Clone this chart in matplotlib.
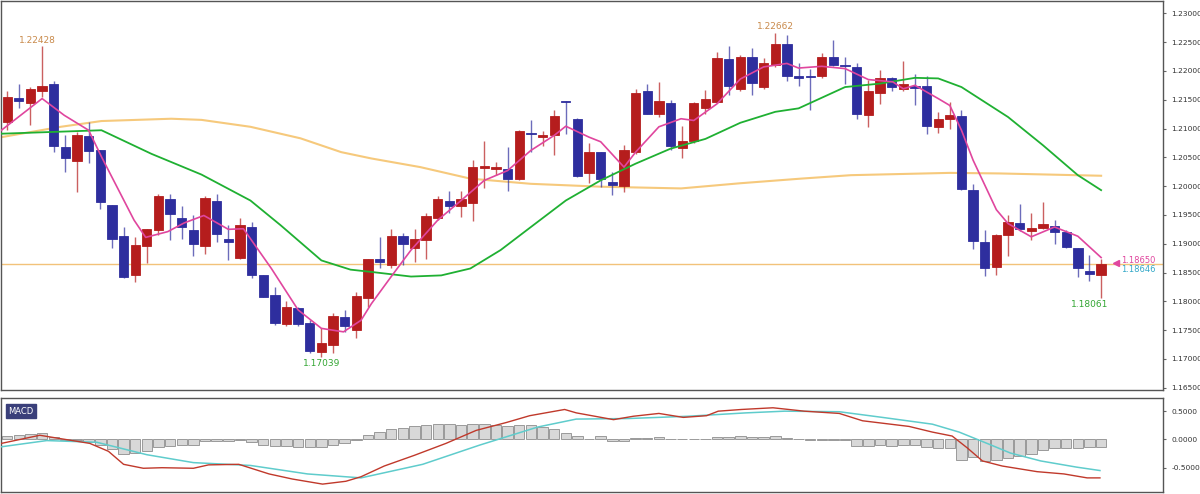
import matplotlib
matplotlib.use("Agg")
import matplotlib.pyplot as plt
import numpy as np

# OHLC (red = up, blue = down)
opens = [1.2111,1.2153,1.2145,1.2165,1.2177,1.2068,1.2043,1.2087,1.2063,1.1968,1.1914,1.1845,1.1896,1.1923,1.1978,1.1945,1.1923,1.1896,1.1975,1.1909,
         1.1876,1.1929,1.1845,1.1811,1.1760,1.1788,1.1762,1.1712,1.1724,1.1773,1.1750,1.1806,1.1873,1.1863,1.1913,1.1892,1.1907,1.1945,1.1975,1.1965,
         1.1971,1.2032,1.2029,1.2029,1.2013,1.2093,1.2085,1.2088,1.2148,1.2116,1.2022,1.2059,1.2007,1.2000,1.2059,1.2165,1.2126,1.2144,1.2067,1.2078,
         1.2136,1.2146,1.2220,1.2168,1.2224,1.2172,1.2211,1.2247,1.2191,1.2191,1.2191,1.2224,1.2211,1.2207,1.2123,1.2162,1.2187,1.2169,1.2173,1.2173,
         1.2103,1.2116,1.2122,1.1993,1.1903,1.1860,1.1915,1.1936,1.1922,1.1928,1.1931,1.1921,1.1893,1.1853,1.1845]
closes = [1.2155,1.2147,1.2169,1.2173,1.2070,1.2048,1.2089,1.2061,1.1972,1.1909,1.1843,1.1897,1.1926,1.1982,1.1951,1.1929,1.1900,1.1980,1.1917,1.1903,
          1.1932,1.1845,1.1808,1.1762,1.1790,1.1760,1.1714,1.1727,1.1774,1.1757,1.1810,1.1873,1.1869,1.1913,1.1899,1.1908,1.1948,1.1978,1.1965,1.1978,
          1.2033,1.2035,1.2033,1.2013,1.2096,1.2090,1.2088,1.2121,1.2146,1.2018,1.2060,1.2012,1.2002,1.2062,1.2162,1.2126,1.2147,1.2070,1.2078,1.2144,
          1.2151,1.2222,1.2174,1.2225,1.2179,1.2214,1.2247,1.2191,1.2187,1.2189,1.2224,1.2211,1.2208,1.2126,1.2165,1.2188,1.2172,1.2177,1.2171,1.2104,
          1.2116,1.2124,1.1995,1.1905,1.1857,1.1915,1.1938,1.1925,1.1928,1.1935,1.1921,1.1895,1.1857,1.1847,1.1865]
highs = [1.2166,1.2178,1.2172,1.22428,1.2182,1.2088,1.2094,1.2111,1.2063,1.1968,1.1929,1.1912,1.1926,1.1987,1.1986,1.1966,1.1949,1.1983,1.1987,1.1932,
         1.1944,1.1938,1.1845,1.1825,1.1801,1.1790,1.1767,1.1753,1.1779,1.1785,1.1817,1.1874,1.1912,1.1925,1.1919,1.1925,1.1954,1.1982,1.1991,1.1992,
         1.2045,1.2078,1.2042,1.2068,1.2098,1.2115,1.2095,1.2133,1.2148,1.2118,1.2074,1.2060,1.2025,1.2071,1.2169,1.2178,1.2181,1.2150,1.2104,1.2146,
         1.2167,1.2232,1.2244,1.2228,1.2239,1.2222,1.22662,1.2262,1.2214,1.2204,1.2231,1.2253,1.2225,1.2213,1.2184,1.2201,1.2190,1.2217,1.2194,1.2191,
         1.2128,1.2146,1.2133,1.2003,1.1923,1.1917,1.1950,1.1969,1.1954,1.1973,1.1942,1.1923,1.1893,1.1881,1.1873]
lows = [1.2097,1.2135,1.2106,1.2155,1.2059,1.2025,1.1989,1.2041,1.1961,1.1892,1.1841,1.1834,1.1867,1.1915,1.1907,1.1908,1.1879,1.1883,1.1903,1.1871,
        1.1873,1.1840,1.1808,1.1759,1.1758,1.1758,1.1710,1.17039,1.1710,1.1747,1.1736,1.1790,1.1857,1.1857,1.1863,1.1869,1.1873,1.1942,1.1954,1.1947,
        1.1940,1.1996,1.2020,1.1992,1.2010,1.2059,1.2070,1.2054,1.2091,1.2015,1.2005,1.1999,1.1984,1.1990,1.2055,1.2126,1.2120,1.2062,1.2049,1.2074,
        1.2125,1.2144,1.2158,1.2165,1.2158,1.2168,1.2207,1.2182,1.2173,1.2132,1.2188,1.2208,1.2178,1.2117,1.2102,1.2143,1.2165,1.2165,1.2141,1.2091,
        1.2092,1.2100,1.1993,1.1890,1.1844,1.1845,1.1878,1.1922,1.1906,1.1926,1.1899,1.1892,1.1843,1.1836,1.18061]

ma_fast_x = [-0.5,3.0,4.9,7.0,8.1,10.9,11.9,13.8,15.2,16.9,19.0,20.3,22.7,25.0,27.0,28.9,30.4,31.3,33.0,34.7,37.0,39.0,41.0,43.0,45.0,47.0,48.0,50.0,51.0,53.0,
             54.0,56.0,57.9,59.0,61.0,63.0,65.0,67.0,68.0,70.0,72.0,74.0,76.1,77.0,78.0,80.0,81.0,82.0,83.0,85.0,86.0,88.0,90.0,92.0,94.0]
ma_fast = [1.2097,1.2152,1.2123,1.2097,1.2051,1.1941,1.1911,1.1921,1.1936,1.1949,1.1925,1.1926,1.1857,1.1785,1.1753,1.1747,1.1767,1.1796,1.1843,1.1889,
           1.1941,1.1975,1.2010,1.2027,1.2062,1.2088,1.2104,1.2085,1.2077,1.2033,1.2059,1.2103,1.2117,1.2114,1.2143,1.2186,1.2207,1.2213,1.2205,1.2208,
           1.2204,1.2185,1.2181,1.2169,1.2175,1.2152,1.2140,1.2097,1.2045,1.1959,1.1935,1.1912,1.1929,1.1913,1.1876]
ma_mid_x = [-0.5,8.1,12.4,16.7,20.9,23.5,27.0,29.5,31.3,34.7,37.3,39.8,42.4,45.0,48.0,51.0,54.0,57.0,60.0,63.0,66.0,68.0,72.0,75.0,78.0,80.0,82.0,86.0,89.0,92.0,94.0]
ma_mid = [1.2091,1.2097,1.2056,1.2020,1.1975,1.1932,1.1871,1.1855,1.1851,1.1843,1.1845,1.1857,1.1889,1.1929,1.1975,1.2010,1.2039,1.2065,1.2082,1.2110,
          1.2129,1.2135,1.2172,1.2178,1.2188,1.2187,1.2172,1.2120,1.2071,1.2019,1.1993]
ma_slow_x = [-0.5,4.6,8.1,14.1,16.7,20.9,25.2,28.7,31.3,35.5,39.8,45.0,51.0,57.9,63.0,68.2,72.5,81.0,85.3,94.0]
ma_slow = [1.2085,1.2103,1.2113,1.2117,1.2115,1.2103,1.2083,1.2059,1.2048,1.2033,1.2013,1.2004,1.1999,1.1996,1.2005,1.2013,1.2019,1.2023,1.2022,1.2018]
hline_price = 1.1865

hist = [0.063,0.086,0.10,0.12,0.046,-0.01,-0.01,-0.04,-0.10,-0.17,-0.26,-0.24,-0.21,-0.14,-0.11,-0.10,-0.10,-0.02,-0.02,-0.02,
        -0.005,-0.04,-0.09,-0.11,-0.11,-0.14,-0.14,-0.14,-0.10,-0.07,-0.005,0.074,0.13,0.19,0.21,0.23,0.26,0.27,0.27,0.26,
        0.27,0.27,0.25,0.23,0.25,0.25,0.22,0.19,0.11,0.06,0.01,0.06,-0.03,-0.03,0.02,0.03,0.05,0.0,0.0,0.0,
        0.01,0.05,0.05,0.06,0.05,0.05,0.06,0.02,0.0,-0.005,-0.005,-0.005,-0.005,-0.11,-0.11,-0.10,-0.11,-0.10,-0.10,-0.14,
        -0.15,-0.15,-0.37,-0.31,-0.39,-0.37,-0.32,-0.29,-0.25,-0.19,-0.15,-0.15,-0.15,-0.13,-0.13]
macd_x = [-0.5,2.8,4.4,7.1,8.7,10.0,11.7,13.3,16.0,17.3,19.9,22.5,24.5,27.1,29.1,30.4,32.4,35.0,37.7,40.3,42.9,44.9,47.9,48.9,
          52.1,53.8,56.0,58.1,60.1,61.1,63.1,65.8,68.5,71.5,73.5,77.5,79.5,81.2,82.5,83.8,85.5,88.5,90.8,92.8,93.9]
macd = [-0.07,0.074,0.02,-0.07,-0.21,-0.44,-0.51,-0.50,-0.51,-0.45,-0.44,-0.61,-0.70,-0.79,-0.74,-0.66,-0.47,-0.28,-0.07,0.16,0.30,0.42,0.53,0.47,
        0.35,0.41,0.46,0.39,0.42,0.50,0.53,0.56,0.50,0.46,0.33,0.23,0.13,0.06,-0.15,-0.38,-0.47,-0.57,-0.61,-0.68,-0.68]
signal_x = [-0.5,3.4,7.7,12.0,16.0,20.9,25.8,30.4,35.7,40.6,45.6,48.9,53.4,58.5,63.5,66.8,71.5,75.2,79.5,81.8,84.2,86.2,88.8,91.9,93.9]
signal = [-0.13,-0.02,-0.05,-0.27,-0.41,-0.46,-0.61,-0.68,-0.44,-0.10,0.22,0.36,0.37,0.41,0.47,0.50,0.49,0.39,0.27,0.13,-0.07,-0.24,-0.38,-0.49,-0.55]

RED = "#b51d1d"; BLUE = "#2e2e9e"
fig = plt.figure(figsize=(12, 4.94), dpi=100)
ax = fig.add_axes([0.001, 0.2105, 0.968, 0.787])
ax2 = fig.add_axes([0.001, 0.004, 0.968, 0.19])
XL = (-0.515, 99.3)

n = len(opens)
for i in range(n):
    o, c, h, l = opens[i], closes[i], highs[i], lows[i]
    col = RED if c >= o else BLUE
    ax.vlines(i, l, h, color=col, lw=1, alpha=0.7, zorder=2)
    bot, top = min(o, c), max(o, c)
    ax.bar(i, max(top - bot, 0.00012), bottom=bot, width=0.8, color=col, edgecolor=col, lw=0.6, zorder=3)

ax.axhline(hline_price, color="#f2c27a", lw=1, zorder=1)
ax.plot(ma_slow_x, ma_slow, color="#f6c97c", lw=1.5, zorder=1)
ax.plot(ma_mid_x, ma_mid, color="#1fb032", lw=1.3, zorder=4)
ax.plot(ma_fast_x, ma_fast, color="#e0469e", lw=1.2, zorder=5)

ax.set_xlim(*XL)
ax.set_ylim(1.1646, 1.2321)
ax.yaxis.tick_right()
ticks = np.arange(1.165, 1.2301, 0.005)
ax.set_yticks(ticks)
ax.set_yticklabels([f"{t:.5f}" for t in ticks], fontsize=5.4, color="#333333")
ax.tick_params(axis="y", length=2, pad=4, color="#666666")
ax.set_xticks([])
for s in ax.spines.values():
    s.set_color("#555555"); s.set_linewidth(1)

# annotations
ax.text(1, highs[3] + 0.0003, "1.22428", fontsize=6.5, color="#c98a4b", ha="left", va="bottom")
ax.text(66, highs[66] + 0.0003, "1.22662", fontsize=6.5, color="#c98a4b", ha="center", va="bottom")
ax.text(27, lows[27] - 0.0004, "1.17039", fontsize=6.5, color="#33a633", ha="center", va="top")
ax.text(93, lows[94] - 0.0004, "1.18061", fontsize=6.5, color="#33a633", ha="center", va="top")
ax.plot([95.3], [1.18660], marker="<", color="#e0469e", ms=4, clip_on=False)
ax.text(95.7, 1.18700, "1.18650", fontsize=6, color="#e0469e", va="center")
ax.text(95.7, 1.18560, "1.18646", fontsize=6, color="#33a8c8", va="center")

# MACD panel
xs = np.arange(len(hist))
ax2.bar(xs, hist, width=0.9, color="#d8d8d8", edgecolor="#9a9a9a", lw=0.7, zorder=2)
ax2.plot(signal_x, signal, color="#5fcccc", lw=1.1, zorder=3)
ax2.plot(macd_x, macd, color="#c0392b", lw=1.0, zorder=4)
ax2.set_xlim(*XL)
ax2.set_ylim(-0.93, 0.73)
ax2.yaxis.tick_right()
ax2.set_yticks([0.5, 0.0, -0.5])
ax2.set_yticklabels(["0.5000", "0.0000", "-0.5000"], fontsize=5.4, color="#333333")
ax2.tick_params(axis="y", length=2, pad=4, color="#666666")
ax2.set_xticks([])
for s in ax2.spines.values():
    s.set_color("#555555"); s.set_linewidth(1)
ax2.text(0.006, 0.86, "MACD", transform=ax2.transAxes, fontsize=6, color="white", va="center",
         bbox=dict(boxstyle="square,pad=0.3", fc="#3a3f7a", ec="#3a3f7a"))

fig.savefig("out.png", dpi=100)
